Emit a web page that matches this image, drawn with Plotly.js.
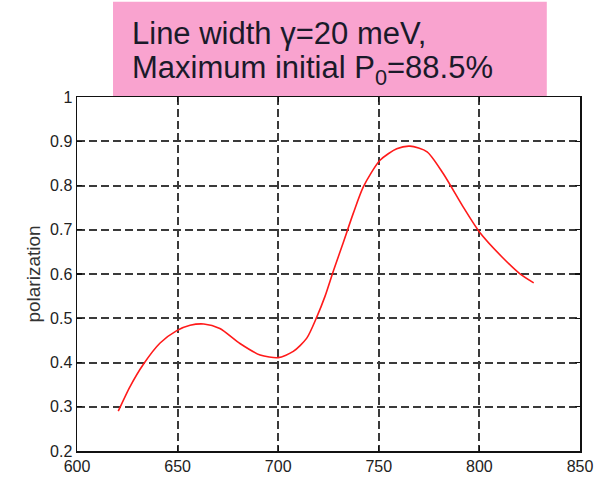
<!DOCTYPE html>
<html><head><meta charset="utf-8">
<script src="https://cdn.plot.ly/plotly-3.0.1.min.js"></script>
<style>html,body{margin:0;padding:0;background:#fff}#chart{width:601px;height:478px}</style>
</head><body><div id="chart"></div>
<script>
// Wavelength (nm)
const wavelength = [620.5, 626.3, 633, 641.3, 649.6, 656.2, 663, 671, 681, 691, 700, 707.5, 714.2, 719.1, 723.3, 727.5, 732.4, 737.3, 742.3, 750.6, 758.9, 765.5, 774, 782, 792, 800, 812, 820, 827];
// Polarization
const polarization = [0.29, 0.345, 0.396, 0.444, 0.472, 0.484, 0.487, 0.477, 0.443, 0.417, 0.411, 0.425, 0.455, 0.502, 0.550, 0.608, 0.672, 0.737, 0.797, 0.857, 0.883, 0.889, 0.876, 0.827, 0.751, 0.695, 0.635, 0.601, 0.58];
const xTicks = [600, 650, 700, 750, 800, 850];
const yTicks = [0.2, 0.3, 0.4, 0.5, 0.6, 0.7, 0.8, 0.9, 1];
const yTickText = ['0.2', '0.3', '0.4', '0.5', '0.6', '0.7', '0.8', '0.9', '1'];
const titleLine1 = 'Line width γ=20 meV,';
const titleLine2 = 'Maximum initial P<sub>0</sub>=88.5%';

const tickFont = {family: 'Liberation Sans, Arial, sans-serif', size: 16, color: '#222'};
const gridCommon = {
  showgrid: true, gridcolor: '#3a3a3a', griddash: '8px,4px', gridwidth: 2,
  showline: true, linecolor: '#111', linewidth: 1.5, mirror: 'ticks',
  ticks: 'inside', ticklen: 5, tickcolor: '#111', tickwidth: 1.3,
  zeroline: false, tickfont: tickFont
};

const trace = {
  x: wavelength, y: polarization, type: 'scatter', mode: 'lines',
  line: {color: '#ff1a1a', width: 1.6, shape: 'spline', smoothing: 0.7},
  hoverinfo: 'skip'
};

const layout = {
  width: 601, height: 478,
  margin: {l: 77, r: 21, t: 97, b: 27},
  paper_bgcolor: '#fff', plot_bgcolor: '#fff',
  showlegend: false,
  font: {family: 'Liberation Sans, Arial, sans-serif'},
  xaxis: Object.assign({}, gridCommon, {range: [600, 850], tickvals: xTicks, ticktext: xTicks.map(String), fixedrange: true}),
  yaxis: Object.assign({}, gridCommon, {range: [0.2, 1], tickvals: yTicks, ticktext: yTickText, fixedrange: true,
    title: {text: 'polarization', font: {family: 'Liberation Sans, Arial, sans-serif', size: 19, color: '#333'}, standoff: 4}}),
  shapes: [{type: 'rect', xref: 'paper', yref: 'paper', x0: 0.0716, x1: 0.934, y0: 1.003, y1: 1.269,
    fillcolor: '#f9a3cf', line: {width: 0}, layer: 'above'}],
  annotations: [
    {xref: 'paper', yref: 'paper', x: 0.106, y: 1.178, xanchor: 'left', yanchor: 'middle', showarrow: false,
      text: titleLine1, font: {family: 'Liberation Sans, Arial, sans-serif', size: 31, color: '#1a1a2a'}},
    {xref: 'paper', yref: 'paper', x: 0.106, y: 1.075, xanchor: 'left', yanchor: 'middle', showarrow: false,
      text: titleLine2, font: {family: 'Liberation Sans, Arial, sans-serif', size: 31, color: '#1a1a2a'}}
  ]
};
Plotly.newPlot('chart', [trace], layout, {staticPlot: true, displayModeBar: false});
</script></body></html>
